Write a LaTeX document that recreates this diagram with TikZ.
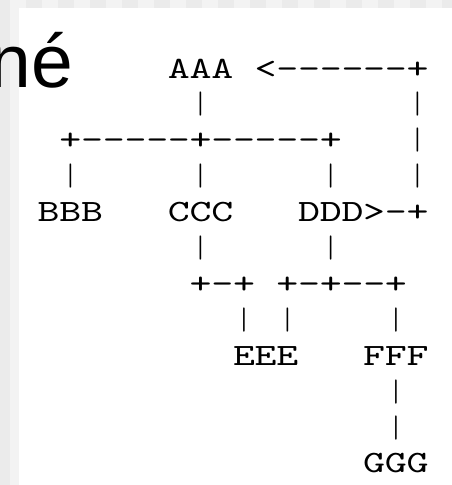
\documentclass[tikz,border=0pt]{standalone}
\usepackage{fontspec}
\setmainfont{Liberation Sans}
\setmonofont{lmmono10-regular.otf}[FakeStretch=1.35]
\newfontfamily\thinmono{lmmonolt10-regular.otf}
% one fixed-pitch cell per character
\newcommand{\gc}[1]{\ifx#1\relax\else\hbox to 21.7pt{\hss#1\hss}\expandafter\gc\fi}
\begin{document}
\begin{tikzpicture}[x=1pt,y=1pt,
  ascii/.style={anchor=base west,inner sep=0pt,outer sep=0pt,
    font=\ttfamily\fontsize{31}{36}\selectfont},
  asciibar/.style={ascii,font=\thinmono\fontsize{31}{36}\selectfont},
  title/.style={anchor=base east,inner sep=0pt,outer sep=0pt,
    font=\fontsize{75}{80}\selectfont}]
\definecolor{stripdark}{HTML}{EBEBEB}
\definecolor{striplight}{HTML}{F3F3F3}
% page and frame strips
\useasboundingbox (0,0) rectangle (452,-485);
\fill[white] (0,0) rectangle (452,-485);
\fill[stripdark] (0,0) rectangle (10,-485);
\fill[striplight] (10,-8) rectangle (19,-485);
\foreach \i in {0,...,27}{
  \pgfmathsetmacro{\xa}{10+16*\i}
  \pgfmathsetmacro{\xb}{min(26+16*\i,452)}
  \ifodd\i
    \fill[stripdark] (\xa,0) rectangle (\xb,-8);
  \else
    \fill[striplight] (\xa,0) rectangle (\xb,-8);
  \fi
}
% heading fragment
\node[title] (head) at (73,-87) {né};
% monospace grid: column c, row r
\newcommand{\cell}[4]{\node[ascii] (#1) at ({37.85+21.7*#2},{-78-35.9*#3}) {\gc #4\relax};}
% a lone vertical bar
\newcommand{\vcell}[3]{\node[asciibar] (#1) at ({37.85+21.7*#2},{-78-35.9*#3}) {\gc |\relax};}
\cell{aaa}{6}{0}{AAA}
\cell{back}{10}{0}{<------+}
\vcell{v1a}{7}{1}
\vcell{v1b}{17}{1}
\cell{split}{1}{2}{+-----+-----+}
\vcell{v2}{17}{2}
\vcell{v3a}{1}{3}
\vcell{v3b}{7}{3}
\vcell{v3c}{13}{3}
\vcell{v3d}{17}{3}
\cell{bbb}{0}{4}{BBB}
\cell{ccc}{6}{4}{CCC}
\cell{ddd}{12}{4}{DDD}
\cell{loop}{15}{4}{>-+}
\vcell{v5a}{7}{5}
\vcell{v5b}{13}{5}
\cell{jc}{7}{6}{+-+}
\cell{jd}{11}{6}{+-+--+}
\vcell{v7a}{9}{7}
\vcell{v7b}{11}{7}
\vcell{v7c}{16}{7}
\cell{eee}{9}{8}{EEE}
\cell{fff}{15}{8}{FFF}
\vcell{v9}{16}{9}
\vcell{v10}{16}{10}
\cell{ggg}{15}{11}{GGG}
\end{tikzpicture}
\end{document}
